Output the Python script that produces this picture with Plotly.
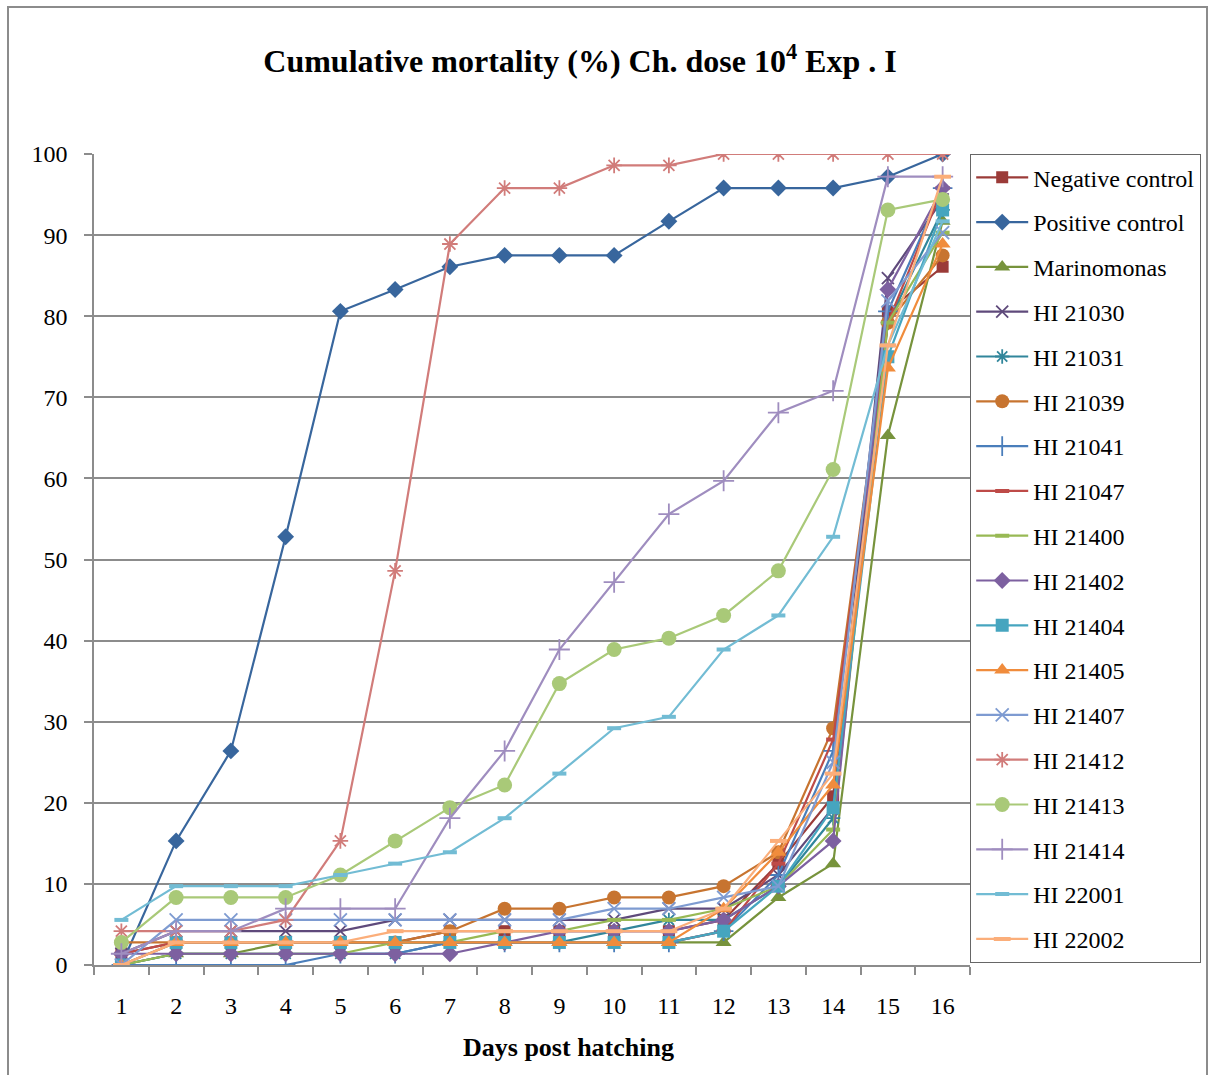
import plotly.graph_objects as go

days = [str(d) for d in range(1, 17)]

neg_control = [1.39, 2.78, 2.78, 2.78, 2.78, 2.78, 4.17, 4.17, 4.17, 4.17, 4.17, 5.56, 12.5, 20.8, 80.6, 86.1]
pos_control = [0, 15.3, 26.4, 52.8, 80.6, 83.3, 86.1, 87.5, 87.5, 87.5, 91.7, 95.8, 95.8, 95.8, 97.2, 100]
marinomonas = [0, 1.39, 1.39, 2.78, 2.78, 2.78, 2.78, 2.78, 2.78, 2.78, 2.78, 2.78, 8.33, 12.5, 65.3, 91.7]
hi21030 = [1.39, 4.17, 4.17, 4.17, 4.17, 5.56, 5.56, 5.56, 5.56, 5.56, 6.94, 6.94, 11.1, 19.4, 84.7, 94.4]
hi21031 = [0, 1.39, 1.39, 1.39, 1.39, 1.39, 2.78, 2.78, 2.78, 4.17, 5.56, 5.56, 9.72, 18.1, 79.2, 93.1]
hi21039 = [2.78, 2.78, 2.78, 2.78, 2.78, 2.78, 4.17, 6.94, 6.94, 8.33, 8.33, 9.72, 13.9, 29.2, 79.2, 87.5]
hi21041 = [0, 0, 0, 0, 1.39, 1.39, 2.78, 2.78, 2.78, 2.78, 2.78, 4.17, 11.1, 26.4, 80.6, 95.8]
hi21047 = [1.39, 2.78, 2.78, 2.78, 2.78, 2.78, 2.78, 2.78, 2.78, 2.78, 2.78, 4.17, 12.5, 27.8, 79.2, 95.8]
hi21400 = [0, 1.39, 1.39, 1.39, 1.39, 2.78, 2.78, 4.17, 4.17, 5.56, 5.56, 6.94, 9.72, 16.7, 79.2, 90.3]
hi21402 = [1.39, 1.39, 1.39, 1.39, 1.39, 1.39, 1.39, 2.78, 4.17, 4.17, 4.17, 5.56, 9.72, 15.3, 83.3, 95.8]
hi21404 = [0, 2.78, 2.78, 2.78, 2.78, 2.78, 2.78, 2.78, 2.78, 2.78, 2.78, 4.17, 9.72, 19.4, 75.0, 93.1]
hi21405 = [0, 2.78, 2.78, 2.78, 2.78, 2.78, 2.78, 2.78, 2.78, 2.78, 2.78, 6.94, 13.9, 22.2, 73.6, 88.9]
hi21407 = [0, 5.56, 5.56, 5.56, 5.56, 5.56, 5.56, 5.56, 5.56, 6.94, 6.94, 8.33, 9.72, 25.0, 81.9, 90.3]
hi21412 = [4.17, 4.17, 4.17, 5.56, 15.3, 48.6, 88.9, 95.8, 95.8, 98.6, 98.6, 100, 100, 100, 100, 100]
hi21413 = [2.78, 8.33, 8.33, 8.33, 11.1, 15.3, 19.4, 22.2, 34.7, 38.9, 40.3, 43.1, 48.6, 61.1, 93.1, 94.4]
hi21414 = [1.39, 4.17, 4.17, 6.94, 6.94, 6.94, 18.1, 26.4, 38.9, 47.2, 55.6, 59.7, 68.1, 70.8, 97.2, 97.2]
hi22001 = [5.56, 9.72, 9.72, 9.72, 11.1, 12.5, 13.9, 18.1, 23.6, 29.2, 30.6, 38.9, 43.1, 52.8, 76.4, 91.7]
hi22002 = [0, 2.78, 2.78, 2.78, 2.78, 4.17, 4.17, 4.17, 4.17, 4.17, 4.17, 6.94, 15.3, 23.6, 76.4, 97.2]

series = [
    ("Negative control", neg_control, "#9B3B38", "square", 12, 0),
    ("Positive control", pos_control, "#38669D", "diamond", 13, 0),
    ("Marinomonas", marinomonas, "#77933C", "triangle-up", 14, 0),
    ("HI 21030", hi21030, "#5F4A7B", "x-thin-open", 12, 1.8),
    ("HI 21031", hi21031, "#31869B", "asterisk-open", 12, 1.8),
    ("HI 21039", hi21039, "#C77430", "circle", 14, 0),
    ("HI 21041", hi21041, "#4A7EBB", "cross-thin-open", 14, 1.8),
    ("HI 21047", hi21047, "#BE4B48", "line-ew-open", 10, 4),
    ("HI 21400", hi21400, "#98B954", "line-ew-open", 10, 4),
    ("HI 21402", hi21402, "#7D60A0", "diamond", 13, 0),
    ("HI 21404", hi21404, "#46A5BF", "square", 13, 0),
    ("HI 21405", hi21405, "#F08C3C", "triangle-up", 14, 0),
    ("HI 21407", hi21407, "#7E9BD1", "x-thin-open", 13, 1.8),
    ("HI 21412", hi21412, "#D17C7A", "asterisk-open", 13, 1.8),
    ("HI 21413", hi21413, "#A9C978", "circle", 15, 0),
    ("HI 21414", hi21414, "#9F8DBF", "cross-thin-open", 15, 1.8),
    ("HI 22001", hi22001, "#72BCD4", "line-ew-open", 10, 4),
    ("HI 22002", hi22002, "#FBAE7A", "line-ew-open", 12, 4),
]

fig = go.Figure()
for name, vals, color, sym, size, lw in series:
    marker = dict(symbol=sym, size=size, color=color)
    if lw:
        marker["line"] = dict(color=color, width=lw)
    fig.add_trace(go.Scatter(
        x=days, y=vals, name=name, mode="lines+markers",
        line=dict(color=color, width=2.2), marker=marker,
        legendgroup=name,
    ))

L, R, T, B = 94, 1211 - 970, 154, 1075 - 965
W, H = 970 - 94, 965 - 154
px = lambda v: (v - L) / W
py = lambda v: (965 - v) / H

SERIF = "Liberation Serif, Times New Roman, serif"

fig.update_layout(
    width=1211, height=1075,
    margin=dict(l=L, r=R, t=T, b=B, autoexpand=False),
    paper_bgcolor="white", plot_bgcolor="white",
    font=dict(family=SERIF, color="black", size=24),
    title=dict(
        text="<b>Cumulative mortality (%) Ch. dose 10<sup>4</sup> Exp . I</b>",
        x=580 / 1211, xanchor="center", y=1 - 61 / 1075, yanchor="middle", yref="container",
        font=dict(size=32, family=SERIF),
    ),
    xaxis=dict(
        type="category", tickson="boundaries", ticks="outside", ticklen=8,
        range=[-0.5, 15.5],
        tickcolor="#8C8C8C", tickwidth=1.5, showline=True, linecolor="#8C8C8C", linewidth=1.5,
        showgrid=False, tickfont=dict(size=24), ticklabelstandoff=18,
    ),
    yaxis=dict(
        range=[0, 100], dtick=10, ticks="outside", ticklen=8, tickcolor="#8C8C8C", tickwidth=1.5,
        showline=True, linecolor="#8C8C8C", linewidth=1.5, showgrid=True, gridcolor="#8C8C8C",
        gridwidth=1.5, zeroline=False, tickfont=dict(size=24), ticklabelstandoff=12,
    ),
    legend=dict(
        x=1.0, xanchor="left", y=1.0, yanchor="top", bordercolor="#666666", borderwidth=1.2,
        bgcolor="white", font=dict(size=24), tracegroupgap=10.6, itemwidth=52,
    ),
    annotations=[dict(
        text="<b>Days post hatching</b>", xref="paper", yref="paper",
        x=px(568), y=py(1047), xanchor="center", yanchor="middle", showarrow=False,
        font=dict(size=26, family=SERIF),
    )],
    shapes=[dict(type="rect", xref="paper", yref="paper",
                 x0=px(8), x1=px(1207), y0=py(1085), y1=py(7),
                 line=dict(color="#8C8C8C", width=2), layer="below")],
)

fig.write_html("out.html")
